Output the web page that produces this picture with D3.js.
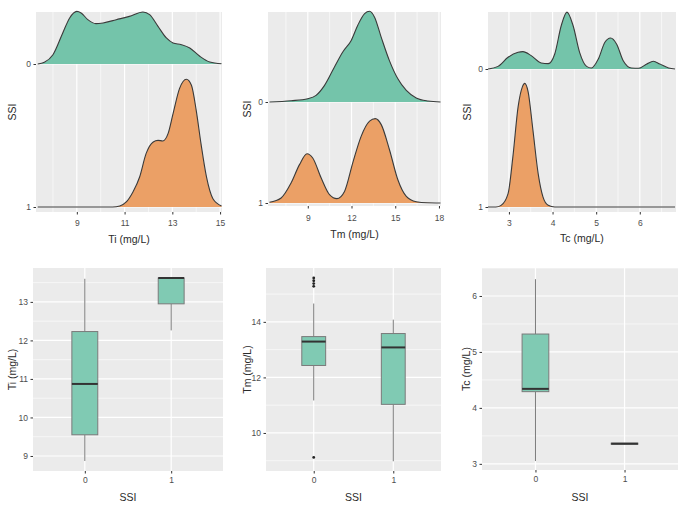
<!DOCTYPE html>
<html><head><meta charset="utf-8">
<script src="https://cdn.jsdelivr.net/npm/d3@7"></script>
<style>
body{margin:0;background:#fff}
text{font-family:"Liberation Sans",Arial,sans-serif}
</style>
</head><body>
<svg id="c" width="688" height="517"></svg>
<script>
// ---------- DATA ----------
const ssiLevels = ["0", "1"];

// Ridge densities (height in units of ridge spacing)
const tiX0 = [7.36,7.64,8.0,8.41,8.7,9.0,9.18,9.46,9.8,10.1,10.65,11.2,11.77,12.05,12.4,12.75,13.03,13.38,13.73,14.15,14.57,15.06];
const tiD0 = [0,0.012,0.065,0.217,0.322,0.368,0.357,0.31,0.282,0.287,0.31,0.333,0.364,0.345,0.263,0.182,0.147,0.135,0.112,0.054,0.014,0.002];
const tiX1 = [7.36,9.0,10.5,10.8,11.07,11.35,11.63,11.9,12.2,12.4,12.6,12.82,13.03,13.3,13.59,13.8,14.0,14.2,14.43,14.7,15.06];
const tiD1 = [0,0,0,0.007,0.035,0.105,0.21,0.373,0.455,0.466,0.462,0.513,0.653,0.828,0.893,0.851,0.676,0.443,0.21,0.058,0.007];

const tmX0 = [6.37,7.86,9.0,9.57,10.15,10.83,11.4,11.98,12.43,12.9,13.24,13.58,14.04,14.6,15.18,15.76,16.44,17.24,18.11];
const tmD0 = [0,0.013,0.033,0.066,0.165,0.347,0.495,0.61,0.76,0.875,0.898,0.84,0.64,0.41,0.23,0.115,0.04,0.01,0];
const tmX1 = [6.37,7.17,7.86,8.43,8.95,9.34,9.92,10.49,11.0,11.52,12.09,12.66,13.24,13.63,14.04,14.6,15.18,15.76,16.44,17.2,18.11];
const tmD1 = [0.007,0.05,0.2,0.38,0.488,0.445,0.247,0.083,0.043,0.115,0.4,0.66,0.81,0.835,0.776,0.53,0.23,0.066,0.013,0.002,0];

const tcX0 = [2.52,2.75,2.98,3.21,3.32,3.51,3.74,3.9,4.05,4.2,4.33,4.47,4.62,4.78,4.89,5.05,5.2,5.33,5.47,5.62,5.81,5.97,6.16,6.31,6.46,6.66,6.81];
const tcD0 = [0,0.019,0.085,0.121,0.126,0.097,0.044,0.039,0.109,0.315,0.412,0.315,0.121,0.019,0.007,0.073,0.194,0.225,0.18,0.06,0.007,0.005,0.036,0.056,0.036,0.007,0];
const tcX1 = [2.52,2.7,2.82,2.98,3.09,3.21,3.31,3.36,3.44,3.55,3.67,3.78,3.9,4.05,6.81];
const tcD1 = [0,0,0.012,0.097,0.363,0.726,0.872,0.896,0.835,0.557,0.242,0.073,0.012,0,0];

// Ridge x-axis ticks
const tiTicks = [9, 11, 13, 15];
const tmTicks = [9, 12, 15, 18];
const tcTicks = [3, 4, 5, 6];

// Boxplot statistics per SSI level [0, 1]
const tiQ1 = [9.55, 12.95], tiMed = [10.87, 13.62], tiQ3 = [12.23, 13.62], tiLo = [8.87, 12.26], tiHi = [13.6, 13.62];
const tiOut = [[], []];
const tmQ1 = [12.43, 11.03], tmMed = [13.29, 13.08], tmQ3 = [13.47, 13.58], tmLo = [11.17, 8.98], tmHi = [14.66, 14.08];
const tmOut = [[15.28, 15.38, 15.48, 15.58, 9.12], []];
const tcQ1 = [4.29, 3.35], tcMed = [4.34, 3.36], tcQ3 = [5.32, 3.37], tcLo = [3.05, 3.35], tcHi = [6.3, 3.37];
const tcOut = [[], []];

// Boxplot y-axis ticks
const tiBoxTicks = [9, 10, 11, 12, 13];
const tmBoxTicks = [10, 12, 14];
const tcBoxTicks = [3, 4, 5, 6];

// ---------- STYLE ----------
const BG = "#EBEBEB", GREEN = "#74C4AA", ORANGE = "#EBA066", BOXFILL = "#80CAB3";
const TICKCOL = "#4D4D4D", TITLECOL = "#2a2a2a";
const svg = d3.select("#c");

function styleAxis(g, fs) {
  g.select(".domain").remove();
  g.selectAll(".tick line").attr("stroke", "#333").attr("stroke-width", 1);
  g.selectAll(".tick text").attr("fill", TICKCOL).style("font-size", fs + "px");
}

function midpoints(ticks, domain) {
  const step = ticks[1] - ticks[0];
  const out = [];
  for (let v = ticks[0] - step / 2; v <= domain[1]; v += step) if (v >= domain[0]) out.push(v);
  return out;
}

function ridgePanel(o) {
  const g = svg.append("g");
  const x = d3.scaleLinear().domain(o.domain).range([o.left, o.right]);
  const y = d3.scalePoint().domain(["1", "0"]).range([o.base1, o.base0]);
  const unit = o.base1 - o.base0;
  g.append("rect").attr("x", o.left).attr("y", o.top).attr("width", o.right - o.left)
    .attr("height", o.bottom - o.top).attr("fill", BG);
  g.selectAll(".mn").data(midpoints(o.ticks, o.domain)).join("line")
    .attr("x1", d => x(d)).attr("x2", d => x(d)).attr("y1", o.top).attr("y2", o.bottom)
    .attr("stroke", "#fff").attr("stroke-width", 0.6);
  g.selectAll(".mj").data(o.ticks).join("line")
    .attr("x1", d => x(d)).attr("x2", d => x(d)).attr("y1", o.top).attr("y2", o.bottom)
    .attr("stroke", "#fff").attr("stroke-width", 1.2);
  g.selectAll(".hz").data(ssiLevels).join("line")
    .attr("x1", o.left).attr("x2", o.right).attr("y1", d => y(d)).attr("y2", d => y(d))
    .attr("stroke", "#fff").attr("stroke-width", 1.2);
  o.series.forEach(s => {
    const pts = s.xs.map((v, i) => ({x: v, d: s.ds[i]}));
    const base = y(s.level);
    const area = d3.area().curve(d3.curveMonotoneX)
      .x(p => x(p.x)).y0(base).y1(p => base - p.d * unit);
    const line = d3.line().curve(d3.curveMonotoneX)
      .x(p => x(p.x)).y(p => base - p.d * unit);
    g.append("path").attr("d", area(pts)).attr("fill", s.color);
    g.append("path").attr("d", line(pts)).attr("fill", "none")
      .attr("stroke", "#3a3a3a").attr("stroke-width", 1.1);
  });
  const ax = g.append("g").attr("transform", `translate(0,${o.bottom})`)
    .call(d3.axisBottom(x).tickValues(o.ticks).tickSize(2.5).tickPadding(o.xpad).tickFormat(d3.format("d")));
  styleAxis(ax, 8.5);
  const ay = g.append("g").attr("transform", `translate(${o.left},0)`)
    .call(d3.axisLeft(y).tickSize(2.5).tickPadding(2.5));
  styleAxis(ay, 8.5);
  g.append("text").attr("x", (o.left + o.right) / 2).attr("y", o.titleY).attr("text-anchor", "middle")
    .attr("fill", TITLECOL).style("font-size", "10.5px").text(o.xTitle);
  g.append("text").attr("transform", `translate(${o.yTitleX},${(o.top + o.bottom) / 2}) rotate(-90)`)
    .attr("text-anchor", "middle").attr("fill", TITLECOL).style("font-size", "10.5px").text("SSI");
}

function boxPanel(o) {
  const g = svg.append("g");
  const x = d3.scaleLinear().domain([0.4, 2.6]).range([o.left, o.right]);
  const y = d3.scaleLinear().domain(o.domain).range([o.bottom, o.top]);
  g.append("rect").attr("x", o.left).attr("y", o.top).attr("width", o.right - o.left)
    .attr("height", o.bottom - o.top).attr("fill", BG);
  g.selectAll(".mn").data(midpoints(o.ticks, o.domain)).join("line")
    .attr("x1", o.left).attr("x2", o.right).attr("y1", d => y(d)).attr("y2", d => y(d))
    .attr("stroke", "#fff").attr("stroke-width", 0.6);
  g.selectAll(".mj").data(o.ticks).join("line")
    .attr("x1", o.left).attr("x2", o.right).attr("y1", d => y(d)).attr("y2", d => y(d))
    .attr("stroke", "#fff").attr("stroke-width", 1.2);
  g.selectAll(".vx").data([1, 2]).join("line")
    .attr("x1", d => x(d)).attr("x2", d => x(d)).attr("y1", o.top).attr("y2", o.bottom)
    .attr("stroke", "#fff").attr("stroke-width", 1.2);
  const hw = (x(1.15) - x(1));
  ssiLevels.forEach((lev, i) => {
    const cx = x(i + 1);
    g.append("line").attr("x1", cx).attr("x2", cx).attr("y1", y(o.hi[i])).attr("y2", y(o.q3[i]))
      .attr("stroke", "#7a7a7a").attr("stroke-width", 1);
    g.append("line").attr("x1", cx).attr("x2", cx).attr("y1", y(o.q1[i])).attr("y2", y(o.lo[i]))
      .attr("stroke", "#7a7a7a").attr("stroke-width", 1);
    g.append("rect").attr("x", cx - hw).attr("width", 2 * hw)
      .attr("y", y(o.q3[i])).attr("height", Math.max(0.5, y(o.q1[i]) - y(o.q3[i])))
      .attr("fill", BOXFILL).attr("stroke", "#7a7a7a").attr("stroke-width", 1);
    g.append("line").attr("x1", cx - hw).attr("x2", cx + hw).attr("y1", y(o.med[i])).attr("y2", y(o.med[i]))
      .attr("stroke", "#333").attr("stroke-width", 2);
    g.selectAll(null).data(o.out[i]).join("circle")
      .attr("cx", cx).attr("cy", d => y(d)).attr("r", 1.4).attr("fill", "#222");
  });
  const ax = g.append("g").attr("transform", `translate(0,${o.bottom})`)
    .call(d3.axisBottom(x).tickValues([1, 2]).tickSize(2.5).tickPadding(3).tickFormat((d, i) => ssiLevels[i]));
  styleAxis(ax, 8.5);
  const ay = g.append("g").attr("transform", `translate(${o.left},0)`)
    .call(d3.axisLeft(y).tickValues(o.ticks).tickSize(2.5).tickPadding(2.5).tickFormat(d3.format("d")));
  styleAxis(ay, 8.5);
  g.append("text").attr("x", (o.left + o.right) / 2).attr("y", o.titleY).attr("text-anchor", "middle")
    .attr("fill", TITLECOL).style("font-size", "10.5px").text("SSI");
  g.append("text").attr("transform", `translate(${o.yTitleX},${(o.top + o.bottom) / 2}) rotate(-90)`)
    .attr("text-anchor", "middle").attr("fill", TITLECOL).style("font-size", "10.5px").text(o.yTitle);
}

ridgePanel({left: 36, right: 222, top: 12, bottom: 212, base0: 64, base1: 207, domain: [7.29, 15.08],
  ticks: tiTicks, xpad: 5, titleY: 243, yTitleX: 16, xTitle: "Ti (mg/L)",
  series: [{level: "0", xs: tiX0, ds: tiD0, color: GREEN}, {level: "1", xs: tiX1, ds: tiD1, color: ORANGE}]});
ridgePanel({left: 268, right: 441, top: 12, bottom: 206, base0: 102, base1: 203, domain: [6.27, 18.14],
  ticks: tmTicks, xpad: 6, titleY: 238, yTitleX: 251, xTitle: "Tm (mg/L)",
  series: [{level: "0", xs: tmX0, ds: tmD0, color: GREEN}, {level: "1", xs: tmX1, ds: tmD1, color: ORANGE}]});
ridgePanel({left: 488, right: 676, top: 12, bottom: 212, base0: 69, base1: 207, domain: [2.52, 6.83],
  ticks: tcTicks, xpad: 5, titleY: 242, yTitleX: 471, xTitle: "Tc (mg/L)",
  series: [{level: "0", xs: tcX0, ds: tcD0, color: GREEN}, {level: "1", xs: tcX1, ds: tcD1, color: ORANGE}]});

boxPanel({left: 33, right: 223, top: 268, bottom: 471, domain: [8.61, 13.88], ticks: tiBoxTicks,
  q1: tiQ1, med: tiMed, q3: tiQ3, lo: tiLo, hi: tiHi, out: tiOut, titleY: 501, yTitleX: 16, yTitle: "Ti (mg/L)"});
boxPanel({left: 266, right: 441, top: 268, bottom: 471, domain: [8.63, 15.94], ticks: tmBoxTicks,
  q1: tmQ1, med: tmMed, q3: tmQ3, lo: tmLo, hi: tmHi, out: tmOut, titleY: 501, yTitleX: 251, yTitle: "Tm (mg/L)"});
boxPanel({left: 482, right: 678, top: 268, bottom: 470, domain: [2.89, 6.5], ticks: tcBoxTicks,
  q1: tcQ1, med: tcMed, q3: tcQ3, lo: tcLo, hi: tcHi, out: tcOut, titleY: 501, yTitleX: 470, yTitle: "Tc (mg/L)"});
</script>
</body></html>
